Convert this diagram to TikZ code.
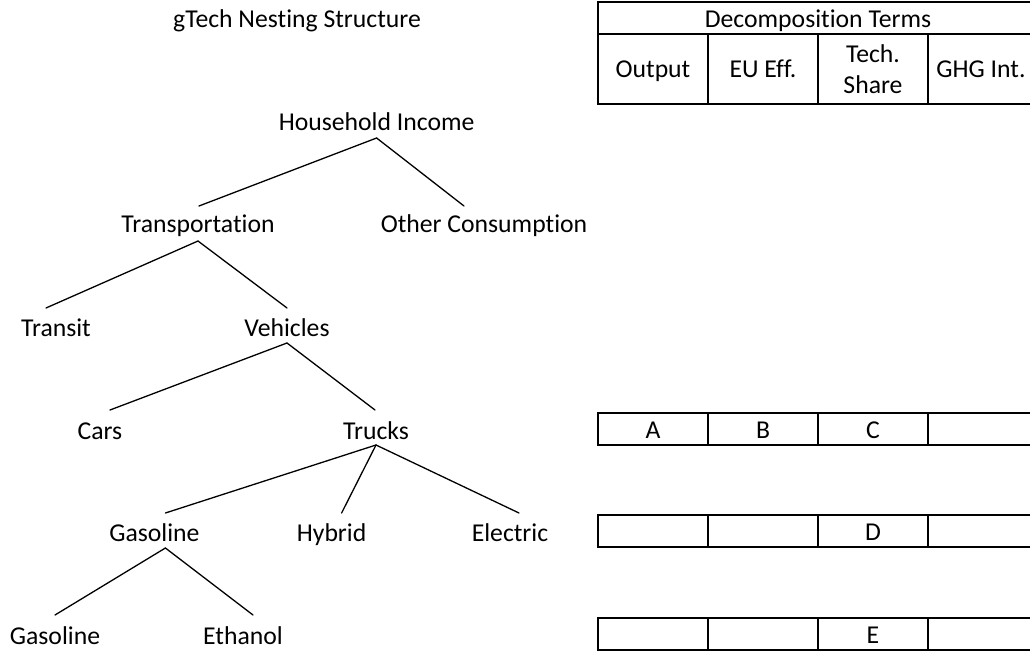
\documentclass[tikz,border=0pt]{standalone}
\usepackage{fontspec}
\setmainfont[Ligatures=NoCommon]{Carlito}
\usetikzlibrary{calc}
\begin{document}
\begin{tikzpicture}[x=1pt,y=-1pt,
  lbl/.style={anchor=base,inner sep=0pt,font=\fontsize{25.7}{29}\selectfont},
  branch/.style={line width=1.3pt,line cap=round},
  gridline/.style={line width=2pt},
  frame/.style={line width=2.5pt}]
\useasboundingbox (0,0) rectangle (1030,652);
\clip (0,0) rectangle (1030,652);

% ---- tree ----
\node[lbl] (title) at (297,28) {gTech Nesting Structure};
\node[lbl] (hi) at (376.6,131) {Household Income};
\node[lbl] (tr) at (198,233) {Transportation};
\node[lbl] (oc) at (484,233) {Other Consumption};
\node[lbl] (transit) at (56,336) {Transit};
\node[lbl] (veh) at (287,336) {Vehicles};
\node[lbl] (cars) at (100,439) {Cars};
\node[lbl] (trucks) at (376,439) {Trucks};
\node[lbl] (gas) at (154.4,541) {Gasoline};
\node[lbl] (hyb) at (331.6,541) {Hybrid};
\node[lbl] (ele) at (510,541) {Electric};
\node[lbl] (gastwo) at (55,644) {Gasoline};
\node[lbl] (eth) at (243,644) {Ethanol};

\draw[branch] ($(hi.base)+(0,7)$) -- ($(tr.base)+(1,-27)$);
\draw[branch] ($(hi.base)+(0,7)$) -- ($(oc.base)+(-20,-27)$);
\draw[branch] ($(tr.base)+(0,8)$) -- ($(transit.base)+(-10,-28)$);
\draw[branch] ($(tr.base)+(0,8)$) -- ($(veh.base)+(0,-28)$);
\draw[branch] ($(veh.base)+(0,7)$) -- ($(cars.base)+(10,-29)$);
\draw[branch] ($(veh.base)+(0,7)$) -- ($(trucks.base)+(-1,-29)$);
\draw[branch] ($(trucks.base)+(0,6)$) -- ($(gas.base)+(11,-28)$);
\draw[branch] ($(trucks.base)+(0,6)$) -- ($(hyb.base)+(10,-28)$);
\draw[branch] ($(trucks.base)+(0,6)$) -- ($(ele.base)+(9,-28)$);
\draw[branch] ($(gas.base)+(11,7)$) -- ($(gastwo.base)+(0,-29)$);
\draw[branch] ($(gas.base)+(11,7)$) -- ($(eth.base)+(10,-29)$);

% ---- decomposition table header ----
\draw[gridline] (598,34) -- (1038,34);
\foreach \cx in {708,818,928} \draw[gridline] (\cx,34) -- (\cx,104);
\draw[frame] (598,2) rectangle (1038,104);
\node[lbl] (dt) at (818,28) {Decomposition Terms};
\node[lbl] (out) at (653,78) {Output};
\node[lbl] (eu) at (763,78) {EU Eff.};
\node[lbl] (tech) at (873,63) {Tech.};
\node[lbl] (share) at (873,94) {Share};
\node[lbl] (ghg) at (981,78) {GHG Int.};

% ---- term rows ----
\foreach \ry in {413,515,618}{
  \foreach \cx in {708,818,928} \draw[gridline] (\cx,\ry) -- (\cx,\ry+32);
  \draw[frame] (598,\ry) rectangle (1038,\ry+32);
}
\node[lbl] (ta) at (653,438) {A};
\node[lbl] (tb) at (763,438) {B};
\node[lbl] (tc) at (873,438) {C};
\node[lbl] (td) at (873,540) {D};
\node[lbl] (te) at (873,643) {E};
\end{tikzpicture}
\end{document}
